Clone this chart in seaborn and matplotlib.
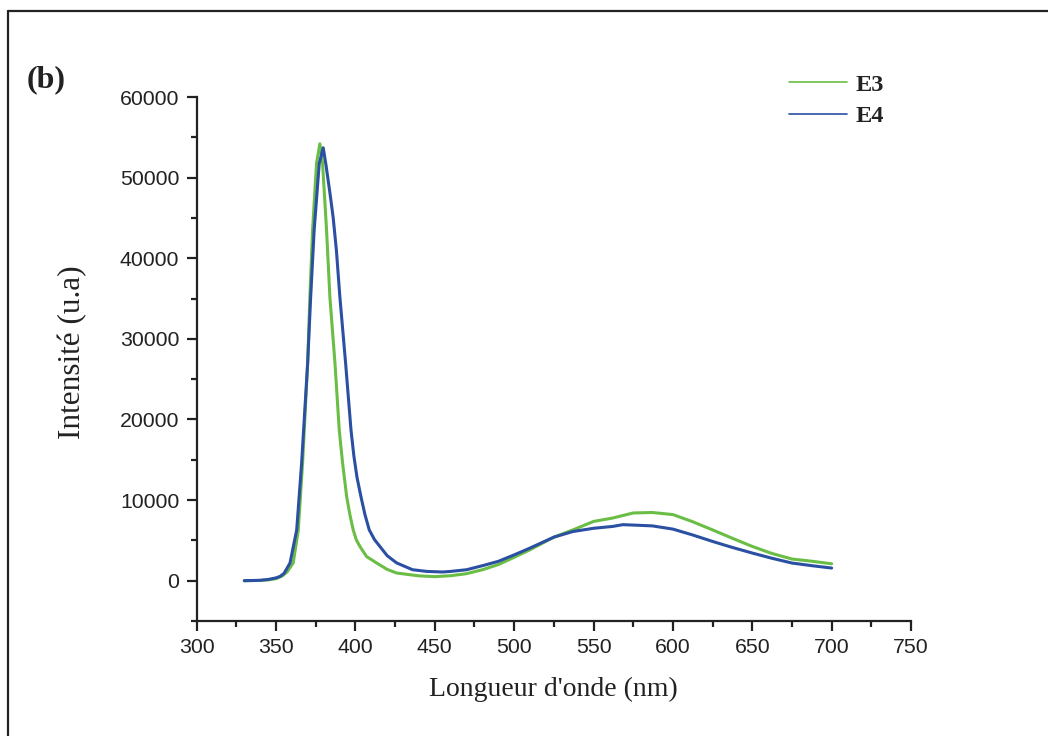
import numpy as np
import pandas as pd
import matplotlib
matplotlib.use("Agg")
import matplotlib.pyplot as plt
from matplotlib.lines import Line2D
import seaborn as sns

# ---- data ----
wl_e3 = [330, 340, 345, 350, 354, 357, 360.8, 364, 366.7, 369.9, 371.3, 373, 375.5,
         377.6, 379.3, 381.8, 383.9, 387.1, 389.8, 391.9, 394.5, 396.5, 398.6, 400.5,
         402.8, 407, 413.3, 420, 426, 440, 450, 460, 470, 480, 490, 500, 510, 525,
         537, 550, 562, 575, 587, 600, 612, 625, 637, 650, 662, 675, 688, 700]
int_e3 = [0, 30, 100, 250, 600, 1100, 2200, 6300, 14600, 27000, 35200, 43500, 51760,
          54200, 51760, 43500, 35200, 27000, 18700, 14600, 10400, 8200, 6300, 5100,
          4250, 3000, 2200, 1400, 950, 600, 500, 620, 870, 1360, 2000, 2900, 3840, 5400,
          6300, 7350, 7770, 8400, 8460, 8200, 7350, 6300, 5300, 4250, 3400, 2690, 2400,
          2100]

wl_e4 = [330, 340, 345, 350, 352.5, 355, 358.8, 363, 366.1, 369.9, 371.8, 374, 377.2,
         379.7, 381.5, 384, 386, 388, 390.2, 393.8, 397.2, 399, 401, 403.5, 406, 408.7,
         412, 415.4, 420, 426, 436, 445, 455, 460, 470, 480, 490, 500, 510, 525, 537,
         550, 562, 568.5, 575, 587, 600, 612, 625, 637, 650, 662, 675, 688, 700]
int_e4 = [0, 50, 150, 350, 530, 900, 2200, 6300, 14600, 27000, 35200, 43500, 51760,
          53700, 51500, 48000, 45000, 41000, 35200, 27000, 18700, 15500, 12800, 10400,
          8200, 6300, 5100, 4250, 3100, 2200, 1360, 1150, 1080, 1150, 1360, 1860, 2400,
          3200, 4050, 5400, 6100, 6500, 6730, 6950, 6900, 6800, 6400, 5700, 4870, 4150,
          3430, 2800, 2190, 1850, 1570]

series_names = ["E3", "E4"]
series_colors = {"E3": "#6abd45", "E4": "#2b4fa2"}

x_ticks = [300, 350, 400, 450, 500, 550, 600, 650, 700, 750]
y_ticks = [0, 10000, 20000, 30000, 40000, 50000, 60000]

df = pd.concat([
    pd.DataFrame({"wl": wl_e3, "I": int_e3, "sample": "E3"}),
    pd.DataFrame({"wl": wl_e4, "I": int_e4, "sample": "E4"}),
], ignore_index=True)

sns.set_style("ticks")
plt.rcParams["font.family"] = ["Liberation Sans", "DejaVu Sans"]

W, H = 1048, 736
fig = plt.figure(figsize=(W / 100, H / 100), dpi=100)
ax = fig.add_axes([196.7 / W, 1 - 621 / H, (911 - 196.7) / W, (621 - 97) / H])

sns.lineplot(data=df, x="wl", y="I", hue="sample", hue_order=series_names,
             palette=series_colors, estimator=None, sort=True, linewidth=2.2, ax=ax)

ax.set_xlim(300, 750)
ax.set_ylim(-5000, 60000)
ax.set_xticks(x_ticks)
ax.set_yticks(y_ticks)
ax.set_xticks([v + 25 for v in x_ticks[:-1]], minor=True)
ax.set_yticks([v - 5000 for v in y_ticks], minor=True)
ax.set_xticklabels([str(v) for v in x_ticks])
ax.set_yticklabels([str(v) for v in y_ticks])

for s in ["top", "right"]:
    ax.spines[s].set_visible(False)
for s in ["left", "bottom"]:
    ax.spines[s].set_linewidth(1.6)
    ax.spines[s].set_color("#222222")
ax.tick_params(which="major", direction="out", length=7.5, width=1.6, color="#222222",
               labelsize=15.3, labelcolor="#222222", pad=5)
ax.tick_params(which="minor", direction="out", length=4.5, width=1.6, color="#222222")

serif = ["Liberation Serif", "DejaVu Serif"]
ax.set_xlabel("Longueur d'onde (nm)", family=serif, fontsize=20, color="#222222", labelpad=14)
ax.set_ylabel("Intensité (u.a)", family=serif, fontsize=22.5, color="#222222")
ax.yaxis.set_label_coords(-(196.7 - 87) / (911 - 196.7), (621 - 352) / (621 - 97))

sns.move_legend(ax, loc="upper left", bbox_to_anchor=(767 / W, 1 - 52 / H),
                bbox_transform=fig.transFigure, title=None, frameon=False,
                handlelength=2.4, handletextpad=0.35, labelspacing=0.38,
                prop={"family": serif, "weight": "bold", "size": 17.5})
leg = ax.get_legend()
for t in leg.get_texts():
    t.set_color("#222222")
for h in leg.get_lines():
    h.set_linewidth(1.2)

fig.text(27 / W, 1 - 80 / H, "(b)", family=serif, fontweight="bold", fontsize=23,
         va="center", ha="left", color="#222222")

# figure frame (top and left edges)
fig.add_artist(Line2D([8 / W, 1], [1 - 11 / H, 1 - 11 / H], transform=fig.transFigure,
                      color="#222222", linewidth=1.6))
fig.add_artist(Line2D([8 / W, 8 / W], [0, 1 - 11 / H], transform=fig.transFigure,
                      color="#222222", linewidth=1.6))

fig.savefig("out.png", dpi=100, facecolor="white")
